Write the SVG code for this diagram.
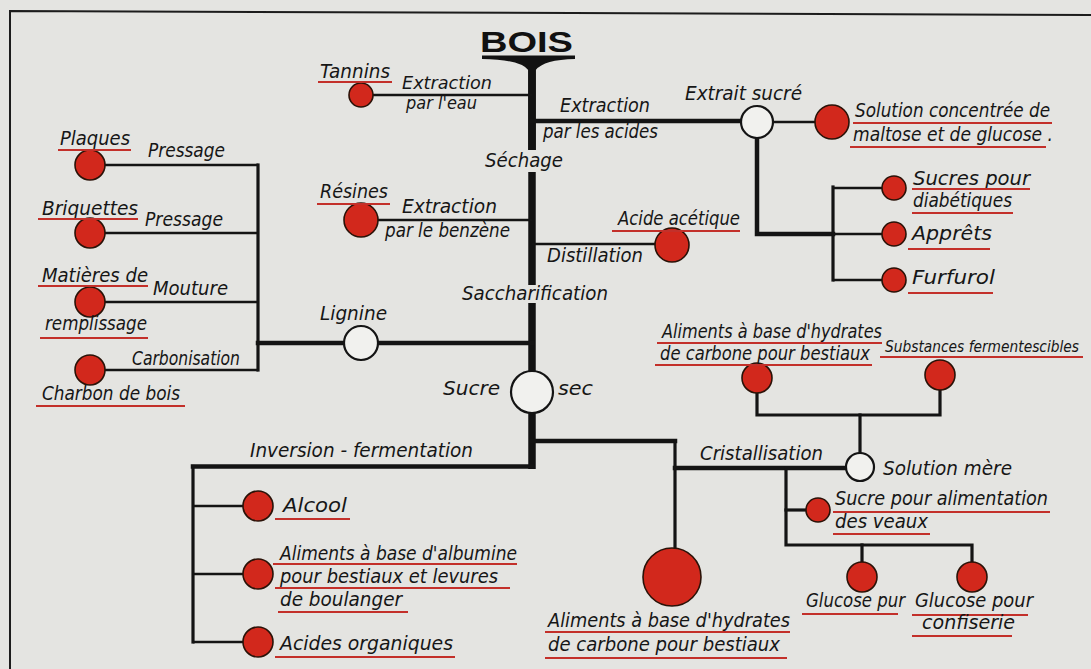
<svg xmlns="http://www.w3.org/2000/svg" width="1091" height="669" viewBox="0 0 1091 669">
  <style>
    .bg { fill: #e4e4e1; }
    .frame { stroke: #1c1c1c; stroke-width: 2; fill: none; }
    .thick { stroke: #141414; stroke-width: 4.5; fill: none; stroke-linecap: square; }
    .mid { stroke: #141414; stroke-width: 3.2; fill: none; stroke-linecap: square; }
    .thin { stroke: #141414; stroke-width: 2.4; fill: none; }
    .stem { stroke: #121212; stroke-width: 7.5; fill: none; }
    .prod { fill: #d2281c; stroke: #2a1208; stroke-width: 1.6; }
    .inter { fill: #f1f1ee; stroke: #141414; stroke-width: 2.2; }
    .ul { stroke: #c3302a; stroke-width: 1.8; fill: none; }
    text { font-family: "DejaVu Sans Condensed", "Liberation Sans Narrow", "Liberation Sans", sans-serif; font-style: italic; font-size: 20px; fill: #161616; }
    text.small { font-size: 18px; }
    text.tight { font-size: 15px; }
    .title { font-family: "Liberation Sans", "DejaVu Sans", sans-serif; font-style: normal; font-weight: bold; font-size: 30px; fill: #111; }
  </style>

  <rect class="bg" x="0" y="0" width="1091" height="669"/>
  <path class="frame" d="M10,669 L10,11 L1091,15"/>

  <!-- trunk: wood, with its T-shaped head -->
  <g id="bois">
    <text class="title" x="480" y="52" textLength="93" lengthAdjust="spacingAndGlyphs">BOIS</text>
    <path d="M482,55.5 L575,55.5 L575,59 Q544,59.5 535.8,70 L535.8,150 L528.2,150 L528.2,70 Q520,59.5 482,59 Z" fill="#121212"/>
  </g>

  <!-- connectors -->
  <g id="connectors">
    <!-- main stem, broken by the step labels -->
    <line class="stem" x1="532" y1="68" x2="532" y2="150"/>
    <line class="stem" x1="532" y1="172" x2="532" y2="285"/>
    <line class="stem" x1="532" y1="303" x2="532" y2="371"/>
    <line class="stem" x1="532" y1="413" x2="532" y2="469"/>

    <!-- upper extractions -->
    <line class="thin" x1="373" y1="95" x2="532" y2="95"/>
    <line class="thick" x1="532" y1="121" x2="741" y2="121"/>
    <line class="thin" x1="773" y1="122" x2="815" y2="122"/>
    <path class="thick" d="M757,138 L757,234 L833,234"/>
    <line class="mid" x1="833" y1="187" x2="833" y2="280"/>
    <line class="thin" x1="833" y1="188" x2="882" y2="188"/>
    <line class="thin" x1="833" y1="234" x2="882" y2="234"/>
    <line class="thin" x1="833" y1="280" x2="882" y2="280"/>
    <line class="thin" x1="378" y1="220" x2="532" y2="220"/>
    <line class="thin" x1="532" y1="244" x2="656" y2="244"/>

    <!-- lignin branch -->
    <line class="thick" x1="378" y1="343" x2="532" y2="343"/>
    <line class="thick" x1="258" y1="343" x2="344" y2="343"/>
    <line class="mid" x1="258" y1="165" x2="258" y2="370"/>
    <line class="thin" x1="104" y1="165" x2="258" y2="165"/>
    <line class="thin" x1="104" y1="233" x2="258" y2="233"/>
    <line class="thin" x1="104" y1="302" x2="258" y2="302"/>
    <line class="thin" x1="104" y1="370" x2="258" y2="370"/>

    <!-- inversion / fermentation -->
    <line class="thick" x1="532" y1="466.5" x2="193" y2="466.5"/>
    <line class="mid" x1="193" y1="466.5" x2="193" y2="642"/>
    <line class="thin" x1="193" y1="506" x2="243" y2="506"/>
    <line class="thin" x1="193" y1="574" x2="243" y2="574"/>
    <line class="thin" x1="193" y1="642" x2="243" y2="642"/>

    <!-- feed branch and crystallisation -->
    <path class="thick" d="M532,441 L675,441"/>
    <line class="mid" x1="675" y1="441" x2="675" y2="548"/>
    <line class="thick" x1="675" y1="468" x2="846" y2="468"/>
    <path class="mid" d="M786,468 L786,545 L972,545 L972,562"/>
    <line class="mid" x1="862" y1="545" x2="862" y2="562"/>
    <line class="mid" x1="786" y1="510" x2="806" y2="510"/>
    <line class="mid" x1="860" y1="453" x2="860" y2="415"/>
    <path class="mid" d="M757,393 L757,415 L940,415 L940,390"/>
  </g>

  <!-- extraction products -->
  <g id="tannins">
    <circle class="prod" cx="361" cy="95" r="12"/>
    <text x="320" y="78" textLength="70" lengthAdjust="spacingAndGlyphs">Tannins</text>
    <line class="ul" x1="318" y1="82" x2="392" y2="82"/>
    <text class="small" x="402" y="89" textLength="90" lengthAdjust="spacingAndGlyphs">Extraction</text>
    <text class="small" x="406" y="109" textLength="71" lengthAdjust="spacingAndGlyphs">par l'eau</text>
  </g>

  <g id="acides">
    <text x="560" y="112" textLength="90" lengthAdjust="spacingAndGlyphs">Extraction</text>
    <text x="543" y="138" textLength="115" lengthAdjust="spacingAndGlyphs">par les acides</text>
  </g>

  <g id="sechage">
    <text x="485" y="167" textLength="78" lengthAdjust="spacingAndGlyphs">Séchage</text>
  </g>

  <g id="extrait-sucre">
    <circle class="inter" cx="757" cy="122" r="16"/>
    <text x="685" y="100" textLength="117" lengthAdjust="spacingAndGlyphs">Extrait sucré</text>
  </g>

  <g id="solution-concentree">
    <circle class="prod" cx="832" cy="122" r="17"/>
    <text x="855" y="117" textLength="195" lengthAdjust="spacingAndGlyphs">Solution concentrée de</text>
    <line class="ul" x1="853" y1="123" x2="1052" y2="123"/>
    <text x="853" y="141" textLength="200" lengthAdjust="spacingAndGlyphs">maltose et de glucose .</text>
    <line class="ul" x1="850" y1="147" x2="1046" y2="147"/>
  </g>

  <g id="sucres-diabetiques">
    <circle class="prod" cx="894" cy="188" r="12"/>
    <text x="913" y="185" textLength="117" lengthAdjust="spacingAndGlyphs">Sucres pour</text>
    <line class="ul" x1="912" y1="189" x2="1030" y2="189"/>
    <text x="913" y="207" textLength="99" lengthAdjust="spacingAndGlyphs">diabétiques</text>
    <line class="ul" x1="912" y1="213" x2="1013" y2="213"/>
  </g>

  <g id="apprets">
    <circle class="prod" cx="894" cy="234" r="12"/>
    <text x="912" y="240" textLength="80" lengthAdjust="spacingAndGlyphs">Apprêts</text>
    <line class="ul" x1="908" y1="249" x2="990" y2="249"/>
  </g>

  <g id="furfurol">
    <circle class="prod" cx="894" cy="280" r="12"/>
    <text x="912" y="284" textLength="83" lengthAdjust="spacingAndGlyphs">Furfurol</text>
    <line class="ul" x1="908" y1="293" x2="993" y2="293"/>
  </g>

  <g id="resines">
    <circle class="prod" cx="361" cy="220" r="17"/>
    <text x="320" y="198" textLength="68" lengthAdjust="spacingAndGlyphs">Résines</text>
    <line class="ul" x1="317" y1="204" x2="390" y2="204"/>
    <text x="402" y="213" textLength="95" lengthAdjust="spacingAndGlyphs">Extraction</text>
    <text x="385" y="237" textLength="125" lengthAdjust="spacingAndGlyphs">par le benzène</text>
  </g>

  <g id="acide-acetique">
    <circle class="prod" cx="672" cy="245" r="17"/>
    <text x="618" y="225" textLength="122" lengthAdjust="spacingAndGlyphs">Acide acétique</text>
    <line class="ul" x1="612" y1="231" x2="740" y2="231"/>
    <text x="547" y="262" textLength="96" lengthAdjust="spacingAndGlyphs">Distillation</text>
  </g>

  <g id="saccharification">
    <text x="462" y="300" textLength="146" lengthAdjust="spacingAndGlyphs">Saccharification</text>
  </g>

  <!-- lignin and its uses -->
  <g id="lignine">
    <circle class="inter" cx="361" cy="343" r="17"/>
    <text x="320" y="320" textLength="67" lengthAdjust="spacingAndGlyphs">Lignine</text>
  </g>

  <g id="plaques">
    <circle class="prod" cx="90" cy="165" r="15"/>
    <text x="60" y="145" textLength="70" lengthAdjust="spacingAndGlyphs">Plaques</text>
    <line class="ul" x1="58" y1="150" x2="131" y2="150"/>
    <text x="148" y="157" textLength="77" lengthAdjust="spacingAndGlyphs">Pressage</text>
  </g>

  <g id="briquettes">
    <circle class="prod" cx="90" cy="233" r="15"/>
    <text x="42" y="215" textLength="96" lengthAdjust="spacingAndGlyphs">Briquettes</text>
    <line class="ul" x1="38" y1="219" x2="138" y2="219"/>
    <text x="145" y="226" textLength="78" lengthAdjust="spacingAndGlyphs">Pressage</text>
  </g>

  <g id="remplissage">
    <circle class="prod" cx="90" cy="302" r="15"/>
    <text x="42" y="282" textLength="106" lengthAdjust="spacingAndGlyphs">Matières de</text>
    <line class="ul" x1="38" y1="286" x2="148" y2="286"/>
    <text x="153" y="295" textLength="75" lengthAdjust="spacingAndGlyphs">Mouture</text>
    <text x="45" y="330" textLength="102" lengthAdjust="spacingAndGlyphs">remplissage</text>
    <line class="ul" x1="40" y1="338" x2="148" y2="338"/>
  </g>

  <g id="charbon">
    <circle class="prod" cx="90" cy="370" r="15"/>
    <text x="132" y="365" textLength="108" lengthAdjust="spacingAndGlyphs">Carbonisation</text>
    <text x="42" y="400" textLength="138" lengthAdjust="spacingAndGlyphs">Charbon de bois</text>
    <line class="ul" x1="36" y1="406" x2="185" y2="406"/>
  </g>

  <!-- dry sugar and its products -->
  <g id="sucre-sec">
    <circle class="inter" cx="532" cy="392" r="21"/>
    <text x="443" y="395" textLength="57" lengthAdjust="spacingAndGlyphs">Sucre</text>
    <text x="558" y="395" textLength="35" lengthAdjust="spacingAndGlyphs">sec</text>
  </g>

  <g id="fermentation">
    <text x="250" y="457" textLength="223" lengthAdjust="spacingAndGlyphs">Inversion - fermentation</text>
  </g>

  <g id="alcool">
    <circle class="prod" cx="258" cy="506" r="15"/>
    <text x="283" y="512" textLength="64" lengthAdjust="spacingAndGlyphs">Alcool</text>
    <line class="ul" x1="275" y1="519" x2="350" y2="519"/>
  </g>

  <g id="albumine">
    <circle class="prod" cx="258" cy="574" r="15"/>
    <text x="280" y="560" textLength="237" lengthAdjust="spacingAndGlyphs">Aliments à base d'albumine</text>
    <line class="ul" x1="273" y1="564" x2="517" y2="564"/>
    <text x="280" y="583" textLength="218" lengthAdjust="spacingAndGlyphs">pour bestiaux et levures</text>
    <line class="ul" x1="275" y1="588" x2="510" y2="588"/>
    <text x="280" y="606" textLength="122" lengthAdjust="spacingAndGlyphs">de boulanger</text>
    <line class="ul" x1="278" y1="612" x2="408" y2="612"/>
  </g>

  <g id="acides-organiques">
    <circle class="prod" cx="258" cy="642" r="15"/>
    <text x="280" y="650" textLength="173" lengthAdjust="spacingAndGlyphs">Acides organiques</text>
    <line class="ul" x1="275" y1="657" x2="455" y2="657"/>
  </g>

  <g id="hydrates-bestiaux">
    <circle class="prod" cx="672" cy="577" r="29"/>
    <text x="548" y="627" textLength="242" lengthAdjust="spacingAndGlyphs">Aliments à base d'hydrates</text>
    <line class="ul" x1="545" y1="632" x2="790" y2="632"/>
    <text x="548" y="651" textLength="232" lengthAdjust="spacingAndGlyphs">de carbone pour bestiaux</text>
    <line class="ul" x1="545" y1="658" x2="787" y2="658"/>
  </g>

  <g id="cristallisation">
    <text x="700" y="460" textLength="123" lengthAdjust="spacingAndGlyphs">Cristallisation</text>
  </g>

  <g id="solution-mere">
    <circle class="inter" cx="860" cy="467" r="14"/>
    <text x="883" y="475" textLength="129" lengthAdjust="spacingAndGlyphs">Solution  mère</text>
  </g>

  <g id="hydrates-mere">
    <circle class="prod" cx="757" cy="378" r="15"/>
    <text x="662" y="338" textLength="220" lengthAdjust="spacingAndGlyphs">Aliments à base d'hydrates</text>
    <line class="ul" x1="657" y1="343" x2="882" y2="343"/>
    <text x="660" y="360" textLength="210" lengthAdjust="spacingAndGlyphs">de carbone pour bestiaux</text>
    <line class="ul" x1="655" y1="365" x2="872" y2="365"/>
  </g>

  <g id="fermentescibles">
    <circle class="prod" cx="940" cy="375" r="15"/>
    <text class="tight" x="885" y="352" textLength="194" lengthAdjust="spacingAndGlyphs">Substances fermentescibles</text>
    <line class="ul" x1="880" y1="357" x2="1083" y2="357"/>
  </g>

  <g id="sucre-veaux">
    <circle class="prod" cx="818" cy="510" r="12"/>
    <text x="835" y="505" textLength="213" lengthAdjust="spacingAndGlyphs">Sucre pour alimentation</text>
    <line class="ul" x1="833" y1="512" x2="1050" y2="512"/>
    <text x="835" y="528" textLength="93" lengthAdjust="spacingAndGlyphs">des veaux</text>
    <line class="ul" x1="833" y1="534" x2="930" y2="534"/>
  </g>

  <g id="glucose-pur">
    <circle class="prod" cx="862" cy="577" r="15"/>
    <text x="806" y="607" textLength="99" lengthAdjust="spacingAndGlyphs">Glucose pur</text>
    <line class="ul" x1="802" y1="614" x2="898" y2="614"/>
  </g>

  <g id="glucose-confiserie">
    <circle class="prod" cx="972" cy="577" r="15"/>
    <text x="915" y="607" textLength="118" lengthAdjust="spacingAndGlyphs">Glucose pour</text>
    <line class="ul" x1="912" y1="615" x2="1028" y2="615"/>
    <text x="922" y="629" textLength="93" lengthAdjust="spacingAndGlyphs">confiserie</text>
    <line class="ul" x1="912" y1="636" x2="1012" y2="636"/>
  </g>
</svg>
